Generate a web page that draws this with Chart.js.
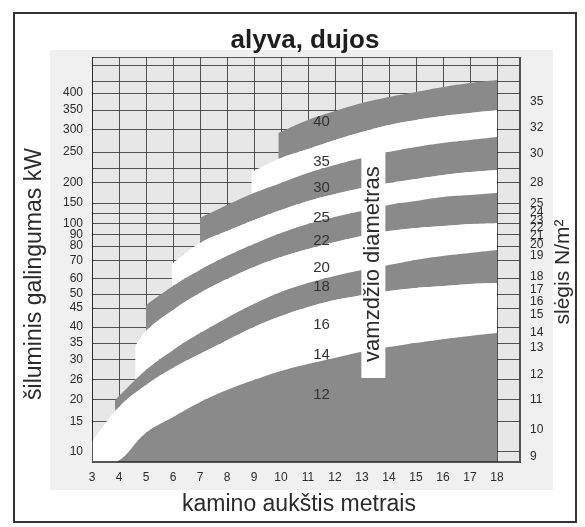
<!DOCTYPE html>
<html lang="lt">
<head>
<meta charset="utf-8">
<title>alyva, dujos</title>
<script src="https://cdn.jsdelivr.net/npm/chart.js@4.4.1/dist/chart.umd.min.js"></script>
<style>
  html, body { margin: 0; padding: 0; background: #fff; }
  canvas { display: block; }
</style>
</head>
<body>
<canvas id="chart" width="585" height="527"></canvas>
<script>
// Chimney height ticks on the x axis (m)
const heights = [3, 4, 5, 6, 7, 8, 9, 10, 11, 12, 13, 14, 15, 16, 17, 18];
// Heat output ticks on the left axis (kW)
const powerTicks = [10, 15, 20, 26, 30, 35, 40, 45, 50, 60, 70, 80, 90, 100, 150, 200, 250, 300, 350, 400];
// Unlabelled grid rules on the output axis (kW)
const powerRules = [126, 224, 435, 482];
// Draught pressure ticks on the right axis (N/m²)
const pressureTicks = [9, 10, 11, 12, 13, 14, 15, 16, 17, 18, 19, 20, 21, 22, 23, 24, 25, 28, 30, 32, 35];
// Flue diameters, bottom band to top band
const diameters = [12, 14, 16, 18, 20, 22, 25, 30, 35, 40];

// Upper edge of each diameter band as [height m, output kW]
const top12 = [[3, 8.3], [3.9, 8.3], [5, 13.2], [6, 16.1], [7, 19.5], [8, 23], [9, 26], [10, 27.8], [11, 29.2], [12, 30.6], [13, 32.4], [14, 33.8], [15, 35], [16, 36.2], [17, 37.2], [18, 38.1]];
const top16 = [[3, 11.8], [4, 18.4], [5, 24.5], [6, 28.4], [7, 31.8], [8, 35.9], [9, 40], [10, 42.9], [11, 45.4], [12, 47.9], [13, 49.6], [14, 52], [15, 54], [16, 55.3], [17, 56.7], [18, 57.3]];
const top18 = [[3.85, 20], [4, 21.2], [5, 28], [6, 32.9], [7, 38.1], [8, 42.4], [9, 46.4], [10, 51.3], [11, 57.3], [12, 61.7], [13, 65], [14, 67.8], [15, 70.7], [16, 73.3], [17, 75.3], [18, 77.3]];
const top20 = [[4.6, 34.1], [5, 38.8], [6, 44.5], [7, 50.7], [8, 60], [9, 66.7], [10, 72.7], [11, 78], [12, 83.6], [13, 89.1], [14, 93.6], [15, 96.4], [16, 98.2], [17, 100], [18, 102.4]];
const top22 = [[5, 46.1], [6, 55.3], [7, 65], [8, 73.3], [9, 81.8], [10, 91.8], [11, 100], [12, 116.7], [13, 131], [14, 145.2], [15, 155], [16, 165], [17, 170], [18, 175]];
const top25 = [[5.95, 68.3], [7, 82.7], [8, 93.6], [9, 109.5], [10, 133.3], [11, 155], [12, 172.5], [13, 187.5], [14, 200], [15, 206.5], [16, 212.9], [17, 217.7], [18, 221]];
const top30 = [[7, 114.3], [8, 145.2], [9, 175], [10, 200], [11, 216.1], [12, 229], [13, 240.3], [14, 250], [15, 261.4], [16, 270.5], [17, 277.3], [18, 284.1]];
const top35 = [[8.9, 217.7], [10, 240.3], [11, 256.8], [12, 277.3], [13, 295.5], [14, 312.5], [15, 325], [16, 335], [17, 342.5], [18, 350]];
const top40 = [[9.9, 293.2], [11, 325], [12, 347.5], [13, 370.6], [14, 388.2], [15, 402.9], [16, 417.6], [17, 429.4], [18, 438.2]];

// Where each diameter number is printed (output kW at the label column)
const labelPower = [21.5, 31.5, 40.5, 54.7, 66.1, 84.5, 114.3, 187.5, 233.9, 320];
const labelHeight = 11.5;

// The printed rulers of this nomogram are not linear: each tick sits at its
// own fraction of the axis (0 = bottom, 1 = top), values between ticks are
// interpolated linearly.
const RULERS = {
  y:  { marks: powerTicks, rules: powerRules,
        at: [0.0247, 0.0988, 0.1531, 0.2025, 0.2519, 0.2938, 0.3333, 0.3802, 0.4148, 0.4519,
             0.4963, 0.5333, 0.5605, 0.5877, 0.6395, 0.6889, 0.7654, 0.8198, 0.8691, 0.9111] },
  y2: { marks: pressureTicks, rules: [],
        at: [0.0123, 0.0790, 0.1531, 0.2148, 0.2815, 0.3185, 0.3630, 0.3951, 0.4247, 0.4568, 0.5086,
             0.5358, 0.5580, 0.5778, 0.5951, 0.6148, 0.6370, 0.6889, 0.7605, 0.8247, 0.8889] }
};

function segIndex(arr, v) {
  const n = arr.length;
  if (v <= arr[0]) return 0;
  if (v >= arr[n - 1]) return n - 2;
  let i = 0;
  while (v > arr[i + 1]) i++;
  return i;
}
function rulerFrac(r, v) {
  const i = segIndex(r.marks, v);
  const t = (v - r.marks[i]) / (r.marks[i + 1] - r.marks[i]);
  return r.at[i] + t * (r.at[i + 1] - r.at[i]);
}
function rulerValue(r, f) {
  const i = segIndex(r.at, f);
  const t = (f - r.at[i]) / (r.at[i + 1] - r.at[i]);
  return r.marks[i] + t * (r.marks[i + 1] - r.marks[i]);
}

class RulerScale extends Chart.LinearScale {
  static id = 'ruler';
  static defaults = {};
  get ruler() { return RULERS[this.id]; }
  determineDataLimits() { this.min = 0; this.max = 1; }
  buildTicks() {
    const r = this.ruler;
    return r.marks.concat(r.rules).sort((a, b) => a - b).map(v => ({ value: v }));
  }
  getPixelForValue(value) {
    if (value === null || value === undefined || isNaN(value)) return NaN;
    return this.getPixelForDecimal(rulerFrac(this.ruler, value));
  }
  getValueForPixel(pixel) { return rulerValue(this.ruler, this.getDecimalForPixel(pixel)); }
  getLabelForValue(value) { return String(value); }
}
Chart.register(RulerScale);

const DARK = '#8a8a8a';
const LIGHT = '#ffffff';
const GRID = 'rgba(45,45,45,0.8)';
const TEXT = '#2b2b2b';
const FONT = '"Liberation Sans", Arial, sans-serif';

function band(label, edge, fill, color) {
  return {
    label: label,
    data: edge.map(([x, y]) => ({ x, y })),
    fill: fill,
    backgroundColor: color,
    borderWidth: 0,
    pointRadius: 0,
    tension: 0.4
  };
}

const datasets = [
  band('12', top12, 'start', DARK),
  band('14-16', top16, '-1', LIGHT),
  band('18', top18, '-1', DARK),
  band('20', top20, '-1', LIGHT),
  band('22', top22, '-1', DARK),
  band('25', top25, '-1', LIGHT),
  band('30', top30, '-1', DARK),
  band('35', top35, '-1', LIGHT),
  band('40', top40, '-1', DARK)
];

function rotatedText(ctx, text, x, y, font) {
  ctx.save();
  ctx.translate(x, y);
  ctx.rotate(-Math.PI / 2);
  ctx.font = font;
  ctx.textAlign = 'center';
  ctx.textBaseline = 'middle';
  ctx.fillText(text, 0, 0);
  ctx.restore();
}

const paper = {
  id: 'paper',
  beforeDraw(chart) {
    const { ctx, chartArea: a } = chart;
    ctx.save();
    ctx.fillStyle = '#ffffff';
    ctx.fillRect(0, 0, chart.width, chart.height);
    ctx.fillStyle = '#f0f0f0';
    ctx.fillRect(a.left - 42, a.top - 7, (a.right - a.left) + 75, (a.bottom - a.top) + 35);
    ctx.fillStyle = '#e7e7e7';
    ctx.fillRect(a.left, a.top, a.right - a.left, a.bottom - a.top);
    ctx.restore();
  },
  afterDraw(chart) {
    const { ctx, chartArea: a } = chart;
    const xs = chart.scales.x, ys = chart.scales.y;
    ctx.save();
    // frame of the grid
    ctx.strokeStyle = GRID;
    ctx.lineWidth = 1;
    ctx.strokeRect(a.left + 0.5, a.top + 0.5, a.right - a.left - 1, a.bottom - a.top - 1);

    // vertical caption on its white strip
    const cx = xs.getPixelForValue(13.42);
    const top = ys.getPixelForValue(254), bottom = ys.getPixelForValue(26.4);
    ctx.fillStyle = '#ffffff';
    ctx.fillRect(cx - 12, top, 24, bottom - top);
    ctx.fillStyle = TEXT;
    rotatedText(ctx, 'vamzdžio diametras', cx, (top + bottom) / 2, '22px ' + FONT);

    // diameter numbers
    ctx.font = '15px ' + FONT;
    ctx.textAlign = 'center';
    ctx.textBaseline = 'middle';
    ctx.fillStyle = '#333';
    diameters.forEach((d, i) => {
      ctx.fillText(String(d), xs.getPixelForValue(labelHeight), ys.getPixelForValue(labelPower[i]));
    });

    // chart and axis titles
    ctx.fillStyle = '#1e1e1e';
    ctx.font = 'bold 26px ' + FONT;
    ctx.fillText('alyva, dujos', 305, 41);
    ctx.fillStyle = TEXT;
    ctx.font = '23px ' + FONT;
    ctx.fillText('kamino aukštis metrais', 299, 505);
    rotatedText(ctx, 'šiluminis galingumas kW', 35, 274, '23px ' + FONT);
    rotatedText(ctx, 'slėgis N/m²', 563, 272, '21px ' + FONT);

    // outer frame
    ctx.strokeStyle = '#333';
    ctx.lineWidth = 2;
    ctx.strokeRect(14, 13, 562, 509);
    ctx.restore();
  }
};

const tickFont = { family: FONT, size: 12 };

new Chart(document.getElementById('chart'), {
  type: 'line',
  data: { datasets },
  options: {
    responsive: false,
    animation: false,
    devicePixelRatio: 1,
    layout: { padding: { top: 57, left: 0, right: 0, bottom: 0 } },
    plugins: { legend: { display: false }, tooltip: { enabled: false }, title: { display: false } },
    scales: {
      x: {
        type: 'linear',
        min: 3,
        max: 18.85,
        bounds: 'data',
        z: 1,
        afterBuildTicks: s => { s.ticks = heights.map(v => ({ value: v })); },
        afterFit: s => { s.height = 65; },
        grid: { color: GRID, lineWidth: 1, drawTicks: false },
        border: { display: true, color: GRID, width: 1 },
        ticks: { font: tickFont, color: TEXT, padding: 8, autoSkip: false, maxRotation: 0, callback: v => String(v) }
      },
      y: {
        type: 'ruler',
        position: 'left',
        z: 1,
        afterFit: s => { s.width = 92; },
        grid: { color: GRID, lineWidth: 1, drawTicks: false },
        border: { display: true, color: GRID, width: 1 },
        ticks: { font: tickFont, color: TEXT, padding: 9, autoSkip: false,
                 callback: v => (powerTicks.includes(v) ? String(v) : '') }
      },
      y2: {
        type: 'ruler',
        position: 'right',
        z: 1,
        afterFit: s => { s.width = 65; },
        grid: { display: false, drawTicks: false },
        border: { display: true, color: GRID, width: 1 },
        ticks: { font: tickFont, color: TEXT, padding: 10, autoSkip: false, callback: v => String(v) }
      }
    }
  },
  plugins: [paper]
});
</script>
</body>
</html>
